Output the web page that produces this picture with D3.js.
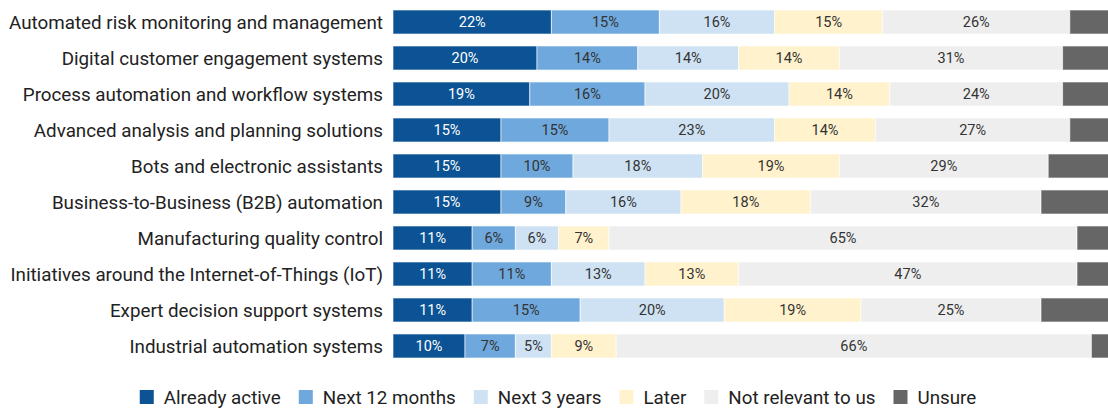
<!DOCTYPE html>
<html>
<head>
<meta charset="utf-8">
<script src="https://cdn.jsdelivr.net/npm/d3@7"></script>
<style>
  body { margin: 0; background: #fff; }
  svg { display: block; font-family: Roboto, "Noto Sans", sans-serif; }
</style>
</head>
<body>
<svg id="chart"></svg>
<script>
// Categories (top to bottom)
const categories = [
    "Automated risk monitoring and management",
    "Digital customer engagement systems",
    "Process automation and workflow systems",
    "Advanced analysis and planning solutions",
    "Bots and electronic assistants",
    "Business-to-Business (B2B) automation",
    "Manufacturing quality control",
    "Initiatives around the Internet-of-Things (IoT)",
    "Expert decision support systems",
    "Industrial automation systems"
];

const seriesNames = ["Already active", "Next 12 months", "Next 3 years", "Later", "Not relevant to us", "Unsure"];
const colors = ["#0b5394", "#6fa8dc", "#cfe2f3", "#fff2cc", "#eeeeee", "#666666"];

// Series values, per category (percent)
const alreadyActive = [22, 20, 19, 15, 15, 15, 11, 11, 11, 10];
const next12Months  = [15, 14, 16, 15, 10,  9,  6, 11, 15,  7];
const next3Years    = [16, 14, 20, 23, 18, 16,  6, 13, 20,  5];
const later         = [15, 14, 14, 14, 19, 18,  7, 13, 19,  9];
const notRelevant   = [26, 31, 24, 27, 29, 32, 65, 47, 25, 66];
const unsure        = [ 6,  7,  7,  6,  9, 10,  5,  5, 10,  3];

const seriesValues = [alreadyActive, next12Months, next3Years, later, notRelevant, unsure];

const width = 1108;
const height = 408;

const svg = d3.select("#chart")
    .attr("width", width)
    .attr("height", height);

// Build rows for the stack
const rows = categories.map((c, i) => {
    const r = { category: c };
    seriesNames.forEach((s, j) => r[s] = seriesValues[j][i]);
    return r;
});

const stacked = d3.stack().keys(seriesNames)(rows);

const x = d3.scaleLinear().domain([0, 100]).range([393, 1113]);
const y = d3.scaleBand().domain(categories).range([4, 364]).paddingInner(0.333).paddingOuter(0.167);

// Category labels
svg.append("g")
    .selectAll("text")
    .data(categories)
    .enter().append("text")
    .attr("x", 383)
    .attr("y", d => y(d) + y.bandwidth() / 2)
    .attr("dy", "0.35em")
    .attr("text-anchor", "end")
    .attr("font-size", 18.8)
    .attr("fill", "#222")
    .text(d => d);

// Bars
const layer = svg.append("g")
    .selectAll("g")
    .data(stacked)
    .enter().append("g")
    .attr("fill", (d, i) => colors[i]);

layer.selectAll("rect")
    .data(d => d)
    .enter().append("rect")
    .attr("x", d => x(d[0]))
    .attr("y", d => y(d.data.category))
    .attr("width", d => x(d[1]) - x(d[0]))
    .attr("height", y.bandwidth())
    .attr("stroke", "#fff")
    .attr("stroke-opacity", 0.6)
    .attr("stroke-width", 1);

// Value labels (not for Unsure)
stacked.forEach((s, i) => {
    if (s.key === "Unsure") return;
    svg.append("g")
        .selectAll("text")
        .data(s)
        .enter().append("text")
        .attr("x", d => (x(d[0]) + x(d[1])) / 2)
        .attr("y", d => y(d.data.category) + y.bandwidth() / 2)
        .attr("dy", "0.35em")
        .attr("text-anchor", "middle")
        .attr("font-size", 14.5)
        .attr("fill", i === 0 ? "#fff" : "#333")
        .text(d => (d[1] - d[0]) + "%");
});

// Legend
const legend = svg.append("g");
let lx = 0;
seriesNames.forEach((name, i) => {
    const g = legend.append("g");
    g.append("rect")
        .attr("x", 0).attr("y", -7)
        .attr("width", 14).attr("height", 14)
        .attr("fill", colors[i]);
    const t = g.append("text")
        .attr("x", 24)
        .attr("dy", "0.35em")
        .attr("font-size", 18.8)
        .attr("fill", "#222")
        .text(name);
    const w = 24 + t.node().getComputedTextLength();
    g.attr("transform", `translate(${lx},0)`);
    lx += w + 18;
});
const totalW = lx - 18;
legend.attr("transform", `translate(${558 - totalW / 2},397)`);
</script>
</body>
</html>
